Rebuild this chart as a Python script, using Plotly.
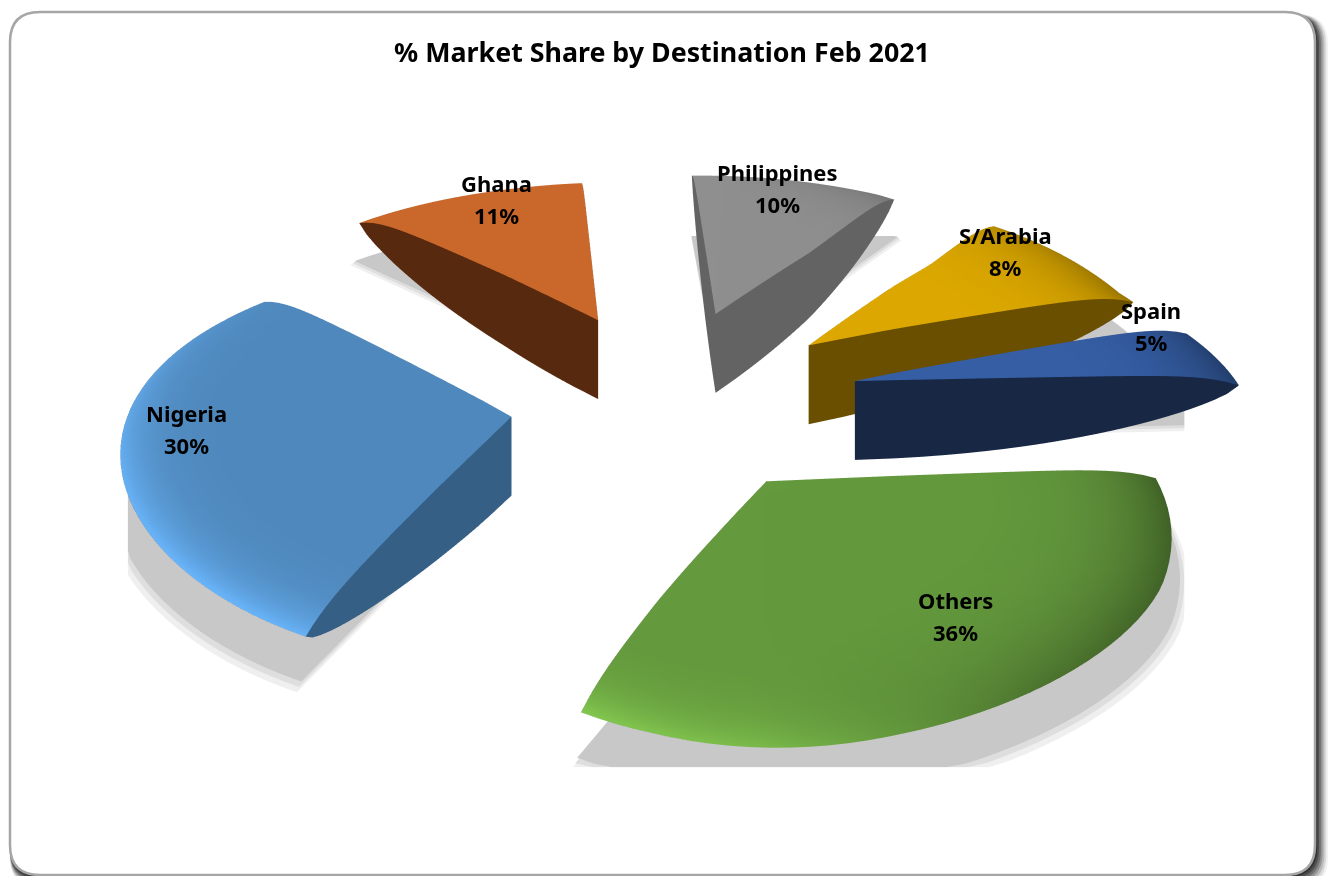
import numpy as np
import plotly.graph_objects as go

labels = ["Philippines", "S/Arabia", "Spain", "Others", "Nigeria", "Ghana"]
values = [10, 8, 5, 36, 30, 11]
pulls = [0.52, 0.53, 0.54, 0.43, 0.43, 0.50]
top_colors = ["#8f8f8f", "#dca800", "#365fa6", "#64993d", "#4f88bc", "#c9682a"]
wall_colors = ["#636363", "#6a4f00", "#172744", "#2f4a1c", "#355f84", "#57290f"]

LABEL_XY = [(778, 188), (1006, 251), (1151, 326), (955, 616), (187, 429), (496, 199)]
H = 0.30
BEV = 0.05
START = np.radians(-6)
W, HH = 1329, 876
NA, NR = 48, 24
CX, CY, AX, BY, K, KX, SH = 670, 402, 375, 198.5, 0.156, 0.07, 14
ZPX = 80 / (H + BEV)
SQ = np.sqrt(0.5)
SHADOW_BOX = (120, 1192, 233, 772)
VIEW = 3.6


def rgb(h):
    return np.array([int(h[i:i + 2], 16) for i in (1, 3, 5)], float)


def col(c, f):
    v = np.clip(c * f, 0, 255)
    return "rgb(%d,%d,%d)" % tuple(v)


def warp(x, y):
    sx = CX + AX * x / (1 + KX * y) + SH * y
    sy = CY - BY * y / (1 + K * y)
    sx += 40 * max(x - 0.6, 0) + 18 * min(x + 0.5, 0)
    tilt = min(np.clip(1 + (y + 0.6) * 0.875, 0.3, 1), np.clip(1 - (y - 0.95) * 1.55, 0.3, 1))
    sy += 35 * max(x, 0) * tilt
    return sx, sy


def scene_pt(sx, sy, z):
    return (sx - W / 2, (HH / 2 - sy) / SQ, z * ZPX / SQ)


class Mesh:
    def __init__(self):
        self.x, self.y, self.z, self.c, self.i, self.j, self.k = [], [], [], [], [], [], []

    def grid(self, pts, cols):
        n0 = len(self.x)
        a, b = len(pts), len(pts[0])
        for r in range(a):
            for s in range(b):
                self.x.append(pts[r][s][0]); self.y.append(pts[r][s][1]); self.z.append(pts[r][s][2])
                self.c.append(cols[r][s])
        for r in range(a - 1):
            for s in range(b - 1):
                p = n0 + r * b + s
                self.i += [p, p + 1]; self.j += [p + 1, p + b + 1]; self.k += [p + b, p + b]

    def trace(self):
        return go.Mesh3d(x=self.x, y=self.y, z=self.z, i=self.i, j=self.j, k=self.k,
                         vertexcolor=self.c, flatshading=False, hoverinfo="skip",
                         lighting=dict(ambient=1, diffuse=0, specular=0, roughness=1, fresnel=0))


def wall_depth(r):
    return -BEV - H * max(1 - r * r, 0) ** 0.75


def wedge(a0, a1, pull, top, wall):
    bis = (a0 + a1) / 2
    ox, oy = pull * np.sin(bis), pull * np.cos(bis)
    angs = np.linspace(a0, a1, NA)
    rs = np.linspace(0, 1, NR) ** 0.7
    m = Mesh()
    ct, cw = rgb(top), rgb(wall)
    tp, tc, bp, bc = [], [], [], []
    for r in rs:
        rowp, rowc, rowb, rowbc = [], [], [], []
        for a in angs:
            sx, sy = warp(r * np.sin(a) + ox, r * np.cos(a) + oy)
            z = -BEV * r ** 12
            light = max(-0.75 * np.sin(a) - 0.65 * np.cos(a), 0)
            dark = max(np.sin(a), 0)
            f = 1 + 0.34 * light * r ** 14 - 0.36 * dark * r ** 7
            rowp.append(scene_pt(sx, sy, z)); rowc.append(col(ct, f))
            rowb.append(scene_pt(sx, sy, wall_depth(r))); rowbc.append(col(cw, 0.85))
        tp.append(rowp); tc.append(rowc); bp.append(rowb); bc.append(rowbc)
    m.grid(tp, tc)
    m.grid(bp, bc)
    for a, in [(a0,), (a1,)]:
        pts, cs = [], []
        for r in rs:
            sx, sy = warp(r * np.sin(a) + ox, r * np.cos(a) + oy)
            z = -BEV * r ** 12
            pts.append([scene_pt(sx, sy, z), scene_pt(sx, sy, wall_depth(r))])
            cs.append([col(cw, 1), col(cw, 1)])
        m.grid(pts, cs)
    return m.trace()


def shadow(a0, a1, pull, z, scale, color, down):
    bis = (a0 + a1) / 2
    ox, oy = pull * np.sin(bis), pull * np.cos(bis)
    angs = np.linspace(a0, a1, NA)
    xs, ys = [ox] + list(ox + scale * np.sin(angs)), [oy] + list(oy + scale * np.cos(angs))
    pts = []
    for x, y in zip(xs, ys):
        sx, sy = warp(x, y)
        sx = min(max(sx, SHADOW_BOX[0]), SHADOW_BOX[1])
        sy = min(max(sy + down, SHADOW_BOX[2]), SHADOW_BOX[3])
        pts.append(scene_pt(sx, sy + z * ZPX, z))
    n = len(pts)
    return go.Mesh3d(x=[p[0] for p in pts], y=[p[1] for p in pts], z=[p[2] for p in pts],
                     i=[0] * (n - 2), j=list(range(1, n - 1)), k=list(range(2, n)),
                     color=color, hoverinfo="skip", flatshading=True,
                     lighting=dict(ambient=1, diffuse=0, specular=0, roughness=1, fresnel=0))


total = sum(values)
edges = START + np.cumsum([0] + values) / total * 2 * np.pi
traces, annots = [], []
for idx, name in enumerate(labels):
    a0, a1 = edges[idx], edges[idx + 1]
    for z, s, c, d in [(-0.48, 1.04, "#efefef", 58), (-0.47, 1.03, "#dedede", 55), (-0.46, 1.02, "#c8c8c8", 52)]:
        traces.append(shadow(a0, a1, pulls[idx], z, s, c, d))
for idx, name in enumerate(labels):
    a0, a1 = edges[idx], edges[idx + 1]
    traces.append(wedge(a0, a1, pulls[idx], top_colors[idx], wall_colors[idx]))
    px, py = LABEL_XY[idx]
    for txt, sh in [(name, 16), ("%d%%" % round(values[idx] / total * 100), -16)]:
        annots.append(dict(x=px / W, y=1 - py / HH, xref="paper", yref="paper", yshift=sh, showarrow=False,
                           text="<b>%s</b>" % txt, xanchor="center", yanchor="middle",
                           font=dict(family="Noto Sans", size=22, color="black")))

fig = go.Figure(traces)
ax = dict(visible=False, showgrid=False, zeroline=False, showbackground=False)
fig.update_layout(
    width=W, height=HH, autosize=False, margin=dict(l=0, r=0, t=0, b=0),
    paper_bgcolor="white", showlegend=False, annotations=annots,
    title=dict(text="<b>% Market Share by Destination Feb 2021</b>", x=662 / W, xanchor="center",
               y=1 - 53 / HH, yanchor="middle",
               font=dict(family="Noto Sans", size=26.8, color="black")),
    scene=dict(
        domain=dict(x=[0, 1], y=[0, 1]),
        xaxis=dict(range=[-800, 800], **ax), yaxis=dict(range=[-800, 800], **ax), zaxis=dict(range=[-800, 800], **ax),
        aspectmode="manual", aspectratio=dict(x=VIEW, y=VIEW, z=VIEW),
        camera=dict(eye=dict(x=0, y=-1.0, z=1.0), center=dict(x=0, y=0, z=0), up=dict(x=0, y=0, z=1),
                    projection=dict(type="orthographic")),
    ),
)


def rounded(l, t, r, b, rad):
    def X(v): return v / W
    def Y(v): return 1 - v / HH
    return (f"M {X(l + rad)} {Y(t)} L {X(r - rad)} {Y(t)} Q {X(r)} {Y(t)} {X(r)} {Y(t + rad)} "
            f"L {X(r)} {Y(b - rad)} Q {X(r)} {Y(b)} {X(r - rad)} {Y(b)} L {X(l + rad)} {Y(b)} "
            f"Q {X(l)} {Y(b)} {X(l)} {Y(b - rad)} L {X(l)} {Y(t + rad)} Q {X(l)} {Y(t)} {X(l + rad)} {Y(t)} Z")


shapes = []
for i, op in enumerate([0.05, 0.1, 0.15, 0.2, 0.25, 0.3, 0.35]):
    off = 13 - i * 1.8
    shapes.append(dict(type="path", xref="paper", yref="paper", layer="below",
                       path=rounded(10, 14, 1315 + off, 875 + off, 30), fillcolor=f"rgba(0,0,0,{op})", line=dict(width=0)))
shapes.append(dict(type="path", xref="paper", yref="paper", layer="below",
                   path=rounded(10, 12, 1315, 875, 30), fillcolor="white", line=dict(color="#a6a6a6", width=2.5)))
fig.update_layout(shapes=shapes)
fig.write_html("out.html", config=dict(displayModeBar=False),
               post_script="document.body.style.margin='0';window.dispatchEvent(new Event('resize'));")
